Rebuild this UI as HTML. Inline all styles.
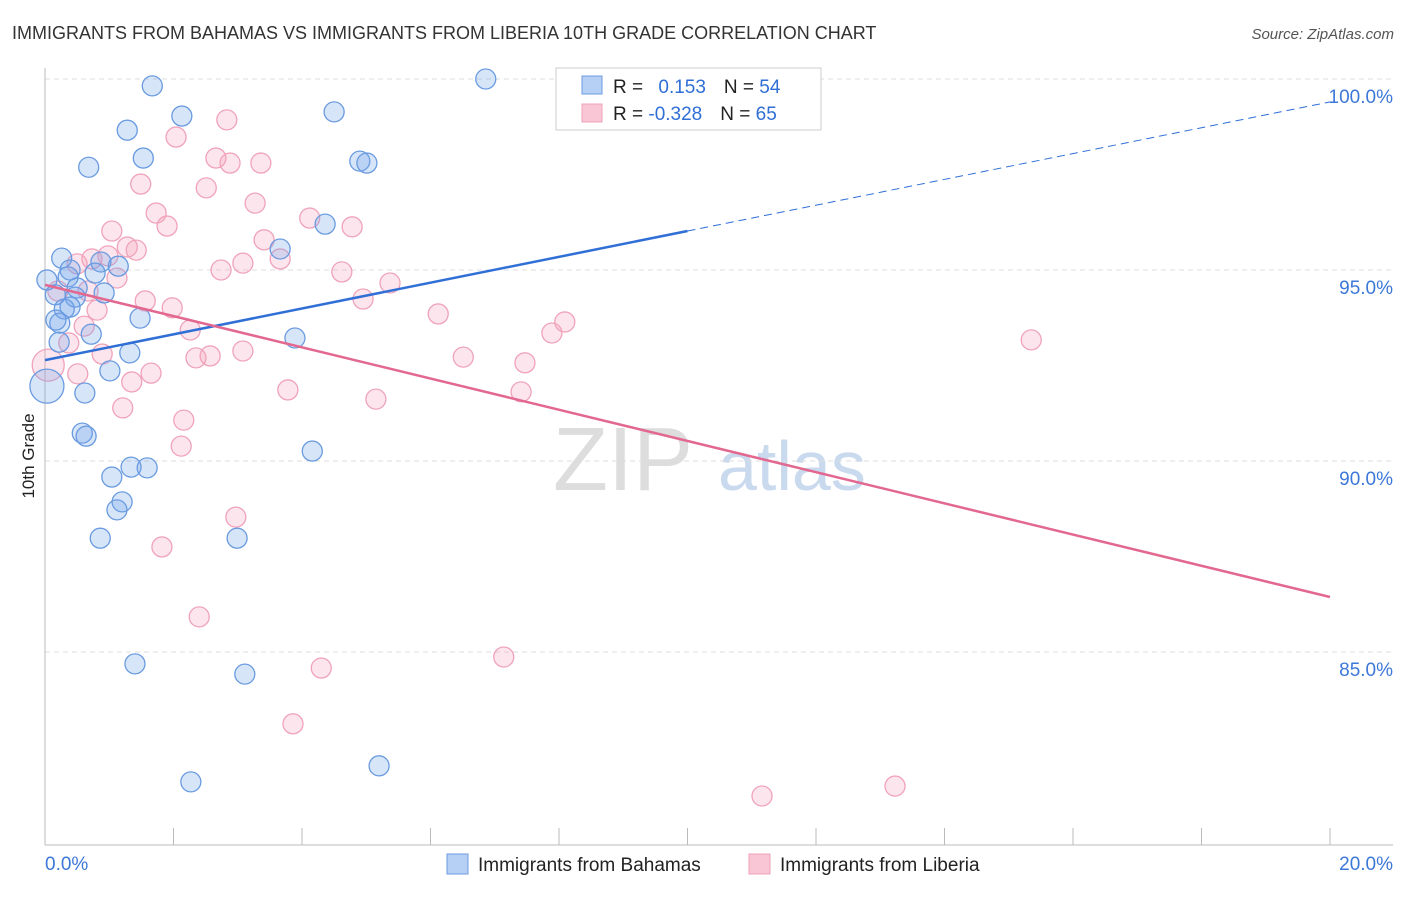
<!DOCTYPE html>
<html><head><meta charset="utf-8"><style>
body{margin:0;background:#fff;font-family:"Liberation Sans",sans-serif}
svg text{font-family:"Liberation Sans",sans-serif}
</style></head><body>
<svg id="c" width="1406" height="892">
<text x="12" y="39" font-size="18" fill="#333">IMMIGRANTS FROM BAHAMAS VS IMMIGRANTS FROM LIBERIA 10TH GRADE CORRELATION CHART</text>
<text x="1394" y="39" font-size="15" fill="#555" font-style="italic" text-anchor="end">Source: ZipAtlas.com</text>
<text x="34" y="456" font-size="17" fill="#222" text-anchor="middle" transform="rotate(-90 34 456)">10th Grade</text>
<text x="553" y="490" font-size="90" fill="#ddd" font-family="Liberation Serif">ZIP</text>
<text x="718" y="490" font-size="70" fill="#c9d9ee">atlas</text>
<g id="grid"></g><g id="pts"></g><g id="lines"></g>
<rect x="556" y="68" width="265" height="62" fill="#fff" stroke="#ccc"/>
<rect x="582" y="76" width="20" height="18" fill="#b5cff5" stroke="#6a9be0"/>
<rect x="582" y="104" width="20" height="18" fill="#f9c6d5" stroke="#f0a0b8"/>
<text x="613" y="93" font-size="19" fill="#222">R = <tspan fill="#2f6fd6" dx="10">0.153</tspan><tspan dx="18" fill="#222">N = </tspan><tspan fill="#2f6fd6">54</tspan></text>
<text x="613" y="120" font-size="19" fill="#222">R = <tspan fill="#2f6fd6">-0.328</tspan><tspan dx="18" fill="#222">N = </tspan><tspan fill="#2f6fd6">65</tspan></text>
<rect x="447" y="854" width="21" height="20" fill="#b5cff5" stroke="#6a9be0"/>
<text x="478" y="871" font-size="19" fill="#222">Immigrants from Bahamas</text>
<rect x="749" y="854" width="21" height="20" fill="#f9c6d5" stroke="#f0a0b8"/>
<text x="780" y="871" font-size="19" fill="#222">Immigrants from Liberia</text>
</svg>
<script>
const yTicks=[100,95,90,85];
const yTickLabels=["100.0%","95.0%","90.0%","85.0%"];
const xTicks=[0,2,4,6,8,10,12,14,16,18,20];
const xEndLabels=["0.0%","20.0%"];
const bahamasX=[1.67,2.13,1.28,4.50,1.53,0.68,4.90,5.01,6.86,8.86,4.36,3.66,0.26,1.14,0.87,0.78,0.39,0.03,0.36,0.50,0.92,0.16,0.47,0.39,0.30,0.17,0.23,1.48,0.72,3.89,0.22,1.32,1.01,0.62,0.03,0.58,0.64,4.16,1.34,1.59,1.04,1.20,1.12,0.86,2.99,1.40,3.11,2.27,5.20];
const bahamasY=[99.82,99.03,98.66,99.14,97.93,97.69,97.85,97.80,100.0,99.97,96.20,95.55,95.31,95.10,95.21,94.92,95.00,94.74,94.82,94.53,94.40,94.35,94.29,94.03,93.98,93.69,93.61,93.74,93.32,93.22,93.11,92.83,92.36,91.78,91.96,90.73,90.65,90.26,89.84,89.82,89.58,88.93,88.72,87.98,87.98,84.69,84.42,81.60,82.02];
const bahamasR=[10,10,10,10,10,10,10,10,10,10,10,10,10,10,10,10,10,10,10,10,10,10,10,10,10,10,10,10,10,10,10,10,10,10,17,10,10,10,10,10,10,10,10,10,10,10,10,10,10];
const liberiaX=[9.40,2.83,2.04,2.66,2.88,3.36,1.49,2.51,3.27,1.73,4.12,4.78,1.90,1.04,3.41,1.28,1.42,0.98,3.66,3.08,0.73,0.50,2.74,1.12,4.62,5.37,0.67,0.20,1.56,1.98,4.95,0.81,6.12,8.09,7.89,0.61,2.26,0.37,0.89,3.08,2.57,2.35,6.51,7.47,0.05,0.51,1.65,1.35,3.78,5.15,7.41,1.21,2.16,2.12,2.97,1.82,2.40,4.30,7.14,3.86,11.16,13.23,15.35];
const liberiaY=[99.97,98.93,98.48,97.93,97.80,97.80,97.25,97.15,96.75,96.49,96.36,96.13,96.15,96.02,95.79,95.60,95.52,95.37,95.29,95.18,95.29,95.16,95.00,94.79,94.95,94.66,94.45,94.45,94.19,94.01,94.24,93.95,93.85,93.64,93.35,93.53,93.43,93.09,92.80,92.88,92.75,92.70,92.72,92.57,92.51,92.28,92.30,92.07,91.86,91.62,91.81,91.39,91.07,90.39,88.53,87.75,85.92,84.58,84.87,83.12,81.23,81.49,93.17];
const bahamasTrend=[92.64,0.338];
const liberiaTrend=[94.61,-0.4085];
const X=v=>45+v*64.25, Y=v=>79+(100-v)*38.2;
const NS="http://www.w3.org/2000/svg";
function mk(tag,attrs,parent){const e=document.createElementNS(NS,tag);for(const k in attrs)e.setAttribute(k,attrs[k]);document.getElementById(parent).appendChild(e);return e;}
yTicks.forEach((t,i)=>{
 const l=mk('line',{x1:45,x2:1393,y1:Y(t),y2:Y(t),stroke:'#ddd','stroke-dasharray':'5,4'},'grid');
 
 
 const tx=mk('text',{x:1393,y:Y(t)+24,'font-size':19,fill:'#3d78d8','text-anchor':'end'},'grid');tx.textContent=yTickLabels[i];
 
 
});
const ax=mk('line',{x1:45,x2:45,y1:68,y2:845,stroke:'#bbb'},'grid');


const bx=mk('line',{x1:45,x2:1393,y1:845,y2:845,stroke:'#bbb'},'grid');


xTicks.forEach(t=>{const l=mk('line',{x1:X(t),x2:X(t),y1:828,y2:845,stroke:'#bbb'},'grid');
 
 });
[[0,45,'start'],[20,1393,'end']].forEach((a,i)=>{const t=mk('text',{x:a[1],y:870,'font-size':19,fill:'#3d78d8','text-anchor':a[2]},'grid');t.textContent=xEndLabels[i];
 
 });
liberiaX.forEach((x,i)=>{const c=mk('circle',{cx:X(x),cy:Y(liberiaY[i]),r:i==44?16:10,fill:'rgba(244,160,188,0.28)',stroke:'#f0a3bb','stroke-width':1.3},'pts');
 
 });
bahamasX.forEach((x,i)=>{const c=mk('circle',{cx:X(x),cy:Y(bahamasY[i]),r:bahamasR[i],fill:'rgba(110,160,235,0.28)',stroke:'#6a9be0','stroke-width':1.3},'pts');
 
 });
const f=(tr,x)=>tr[0]+tr[1]*x;
let l1=mk('line',{x1:X(0),y1:Y(f(bahamasTrend,0)),x2:X(10),y2:Y(f(bahamasTrend,10)),stroke:'#2f6fd6','stroke-width':2.5},'lines');


let l2=mk('line',{x1:X(10),y1:Y(f(bahamasTrend,10)),x2:X(20),y2:Y(f(bahamasTrend,20)),stroke:'#2f6fd6','stroke-width':1,'stroke-dasharray':'8,5'},'lines');


let l3=mk('line',{x1:X(0),y1:Y(f(liberiaTrend,0)),x2:X(20),y2:Y(f(liberiaTrend,20)),stroke:'#e3688f','stroke-width':2.5},'lines');


</script>
</body></html>
